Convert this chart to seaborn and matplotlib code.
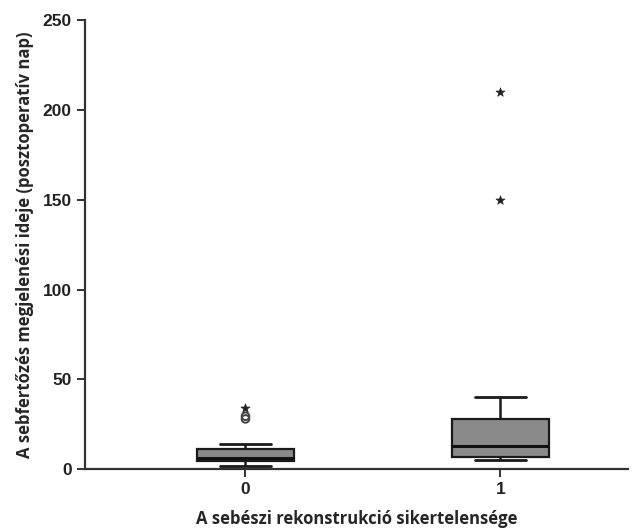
import pandas as pd
import matplotlib
matplotlib.use("Agg")
import matplotlib.pyplot as plt
import seaborn as sns

# Box summaries: whisker low, Q1, median, Q3, whisker high
groups = ["0", "1"]
box_0 = [2, 4.5, 6.3, 11.5, 13.8]
box_1 = [5, 6.9, 12.8, 27.8, 40]

# outliers (circle = mild, star = extreme)
mild_group = ["0", "0"]
mild_vals = [28, 29.5]
extreme_group = ["0", "1", "1"]
extreme_vals = [34, 150, 210]

df = pd.DataFrame({
    "grp": ["0"] * len(box_0) + ["1"] * len(box_1),
    "val": box_0 + box_1,
})
mild = pd.DataFrame({"grp": mild_group, "val": mild_vals})
extreme = pd.DataFrame({"grp": extreme_group, "val": extreme_vals})

sns.set_style("ticks")
plt.rcParams["font.family"] = ["Liberation Sans", "DejaVu Sans"]

fig = plt.figure(figsize=(6.34, 5.29), dpi=100)
ax = fig.add_axes([0.134, 0.113, 0.856, 0.849])

sns.boxplot(data=df, x="grp", y="val", order=groups, whis=(0, 100),
            width=0.38, color="#8a8a8a", saturation=1, ax=ax,
            linecolor="#1a1a1a", linewidth=1.6,
            medianprops=dict(color="#111111", linewidth=2.2),
            capprops=dict(color="#1a1a1a", linewidth=2),
            whiskerprops=dict(color="#1a1a1a", linewidth=1.8),
            capwidths=0.2)

sns.scatterplot(data=mild, x="grp", y="val", marker="o", s=30,
                facecolor="none", edgecolor="#444444", linewidth=1.4,
                ax=ax, legend=False)
sns.scatterplot(data=extreme, x="grp", y="val", marker="*", s=45,
                color="#222222", edgecolor="#222222", ax=ax, legend=False)

ax.set_xlim(-0.63, 1.5)
ax.set_ylim(0, 250)
ax.set_yticks([0, 50, 100, 150, 200, 250])
sns.despine(ax=ax)
for s in ["left", "bottom"]:
    ax.spines[s].set_linewidth(1.6)
    ax.spines[s].set_color("#333333")
ax.tick_params(axis="both", length=6, width=1.4, color="#333333",
               labelsize=12.5)
for lab in ax.get_xticklabels() + ax.get_yticklabels():
    lab.set_fontweight("bold")
    lab.set_color("#222222")

ax.set_xlabel("A sebészi rekonstrukció sikertelensége", fontsize=12,
              fontweight="bold", family=["Open Sans", "DejaVu Sans"],
              labelpad=9)
ax.set_ylabel("A sebfertőzés megjelenési ideje (posztoperatív nap)",
              fontsize=12, fontweight="bold",
              family=["Open Sans", "DejaVu Sans"], labelpad=6)

fig.savefig("out.png", dpi=100)
